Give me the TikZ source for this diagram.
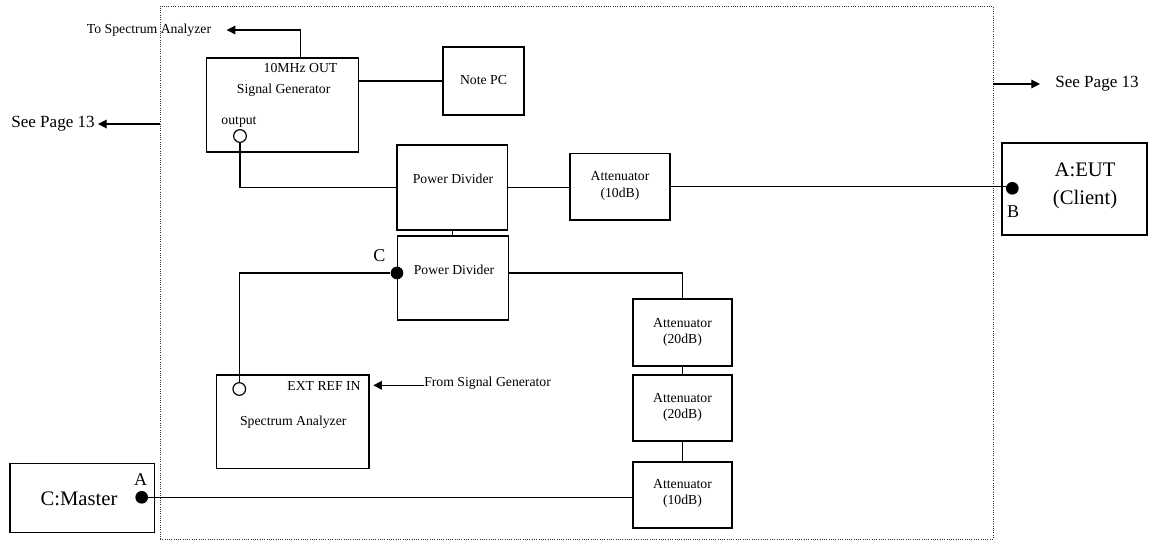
\documentclass[tikz,border=0pt]{standalone}
\usepackage{fontspec}
\setmainfont{Liberation Serif}
\usetikzlibrary{arrows.meta}

\tikzset{
  blk/.style={draw, line width=0.9pt, inner sep=0pt},
  lbl/.style={font=\fontsize{10.3}{12.5}\selectfont, inner sep=0pt, align=center},
  big/.style={font=\fontsize{15.5}{18}\selectfont, inner sep=0pt},
  pin/.style={font=\fontsize{13.5}{15}\selectfont, inner sep=0pt},
  port/.style={circle, draw, fill=white, line width=0.9pt, minimum size=9.5pt, inner sep=0pt},
  dot/.style={circle, fill=black, minimum size=9.5pt, inner sep=0pt},
  wire/.style={line width=0.9pt},
  arr/.style={wire, -{Triangle[length=6.5pt,width=6.5pt]}},
  frame/.style={draw, densely dotted, line width=0.7pt, black!80, inner sep=0pt}
}

\begin{document}
\begin{tikzpicture}[x=0.75pt, y=-0.75pt]
  \useasboundingbox (0,0) rectangle (1149,543);

  % test set-up boundary
  \node[frame, minimum width=624.75pt, minimum height=399.75pt] (frame) at (576.5,272.5) {};

  % boxes
  \node[blk, minimum width=114pt, minimum height=70.5pt] (sg) at (282.5,105) {};
  \node[blk, minimum width=60.75pt, minimum height=51pt] (pc) at (483.5,81) {};
  \node[blk, minimum width=82.9pt, minimum height=63.75pt] (pd1) at (452.25,187.5) {};
  \node[blk, minimum width=83.25pt, minimum height=63pt] (pd2) at (453,278) {};
  \node[blk, minimum width=75pt, minimum height=50pt] (att1) at (620,186.7) {};
  \node[blk, minimum width=108.75pt, minimum height=69pt] (eut) at (1074.5,189) {};
  \node[blk, minimum width=74.25pt, minimum height=50.25pt] (att2) at (682.5,332.5) {};
  \node[blk, minimum width=74.25pt, minimum height=49.5pt] (att3) at (682.5,408) {};
  \node[blk, minimum width=74.25pt, minimum height=49.5pt] (att4) at (682.5,495) {};
  \node[blk, minimum width=114.2pt, minimum height=70pt] (sa) at (292.9,421.7) {};
  \node[blk, minimum width=108.2pt, minimum height=52pt] (master) at (82.2,498) {};

  % texts
  \node[lbl] (mzout) at (300.5,68) {10MHz OUT};
  \node[lbl] at (283.7,90.7) {Signal Generator};
  \node[lbl] at (239,121.7) {output};
  \node[lbl] at (483.5,80) {Note PC};
  \node[lbl] at (453,179) {Power Divider};
  \node[lbl] at (454,270) {Power Divider};
  \node[lbl] at (620,186) {Attenuator\\(10dB)};
  \node[lbl] at (682.5,332.4) {Attenuator\\(20dB)};
  \node[lbl] at (682.5,407.5) {Attenuator\\(20dB)};
  \node[lbl] at (682.5,493.4) {Attenuator\\(10dB)};
  \node[lbl] at (324,385.7) {EXT REF IN};
  \node[lbl] at (293.3,422.7) {Spectrum Analyzer};
  \node[lbl, anchor=west] (tosa) at (86.7,30) {To Spectrum Analyzer};
  \node[lbl, anchor=west] (fromsg) at (424,383.5) {From Signal Generator};
  \node[big, align=center] at (1085,186) {A:EUT\\[3pt](Client)};
  \node[big] at (79,498.3) {C:Master};
  \node[font=\fontsize{12.8}{15}\selectfont, inner sep=0pt, anchor=east] (seel) at (95,124) {See Page 13};
  \node[font=\fontsize{12.8}{15}\selectfont, inner sep=0pt, anchor=west] (seer) at (1055,84) {See Page 13};
  \node[pin] at (1013,211.7) {B};
  \node[pin] at (379.3,256) {C};
  \node[pin] at (140.7,480) {A};

  % ports
  \node[port] (sgout) at (240,136) {};
  \node[port] (saref) at (239.3,389) {};
  \node[dot] (dotB) at (1012.3,188.3) {};
  \node[dot] (dotC) at (397,273) {};
  \node[dot] (dotA) at (141.7,497.3) {};

  \coordinate (tosatip) at (226.7,30);
  \coordinate (seertip) at (1040,84);
  \coordinate (seeltip) at (98,124);
  \coordinate (fromsgtip) at (373.3,385.3);

  % connections
  \draw[arr] (mzout.north |- sg.north) |- (tosatip);
  \draw[wire] (sg.east |- pc.west) -- (pc.west);
  \draw[wire] (sgout.south) |- (pd1.west);
  \draw[wire] (pd1.east) -- (pd1.east -| att1.west);
  \draw[wire] (att1.east) -- (att1.east -| dotB.center);
  \draw[wire] (pd1.south) -- (pd1.south |- pd2.north);
  \draw[wire] (pd2.east |- dotC) -| (att2.north);
  \draw[wire] (dotC) -| (saref.north);
  \draw[wire] (att2.south) -- (att3.north);
  \draw[wire] (att3.south) -- (att4.north);
  \draw[wire] (dotA -| att4.west) -- (dotA);
  \draw[arr] (fromsg.west |- fromsgtip) -- (fromsgtip);
  \draw[arr] (frame.west |- seeltip) -- (seeltip);
  \draw[arr] (frame.east |- seertip) -- (seertip);
\end{tikzpicture}
\end{document}
